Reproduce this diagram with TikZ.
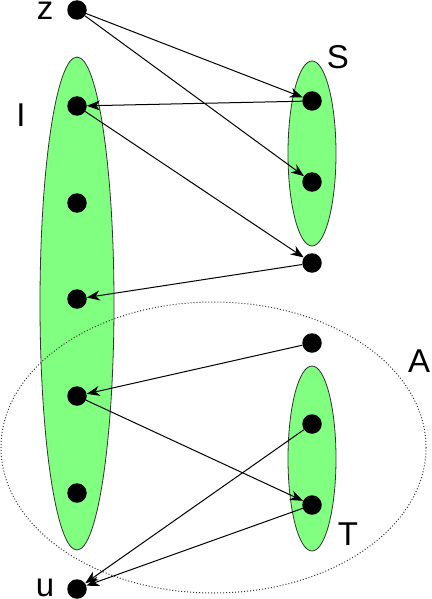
\documentclass[tikz,border=0pt]{standalone}
\usepackage{fontspec}
\setmainfont{Liberation Sans}
\usetikzlibrary{arrows.meta}
\definecolor{setgreen}{RGB}{128,255,128}
\tikzset{
  vtx/.style={circle,fill=black,inner sep=0pt,minimum size=19.5pt},
  lbl/.style={inner sep=0pt,font=\fontsize{33}{36}\selectfont},
  setell/.style={fill=setgreen,draw=black!80,line width=0.8pt},
  edge/.style={line width=1pt,-{Stealth[length=13pt,width=10pt,inset=4pt]}},
}
\begin{document}
\begin{tikzpicture}[x=1pt,y=-1pt]
\useasboundingbox (0,0) rectangle (431,599);
% set ellipses
\path[setell] (77,303.5) ellipse [x radius=37,y radius=246.5];
\path[setell] (312,153.5) ellipse [x radius=24,y radius=92.5];
\path[setell] (312,458.5) ellipse [x radius=24,y radius=92.5];
% dotted ellipse A
\draw[black!80,line width=1pt,dash pattern=on 1pt off 2pt] (213.5,447.5) ellipse [x radius=212.5,y radius=145.5];
% vertices
\node[vtx] (z) at (77,10) {};
\node[vtx] (i1) at (77,106) {};
\node[vtx] (i2) at (77,203) {};
\node[vtx] (i3) at (77,299) {};
\node[vtx] (i4) at (77,396) {};
\node[vtx] (i5) at (77,493) {};
\node[vtx] (u) at (77,589) {};
\node[vtx] (s1) at (312,101) {};
\node[vtx] (s2) at (312,182) {};
\node[vtx] (f) at (312,263) {};
\node[vtx] (a) at (312,343) {};
\node[vtx] (t1) at (312,424) {};
\node[vtx] (t2) at (312,505) {};
% labels
\node[lbl] (lz) at (45,11) {z};
\node[lbl] (lS) at (338,57) {S};
\node[lbl] (lI) at (21,115) {I};
\node[lbl] (lA) at (419,361) {A};
\node[lbl] (lT) at (348,534) {T};
\node[lbl] (lu) at (45,588) {u};
% edges
\draw[edge] (z) -- (s1);
\draw[edge] (z) -- (s2);
\draw[edge] (s1) -- (i1);
\draw[edge] (i1) -- (f);
\draw[edge] (f) -- (i3);
\draw[edge] (a) -- (i4);
\draw[edge] (i4) -- (t2);
\draw[edge] (t1) -- (u);
\draw[edge] (t2) -- (u);
\end{tikzpicture}
\end{document}
